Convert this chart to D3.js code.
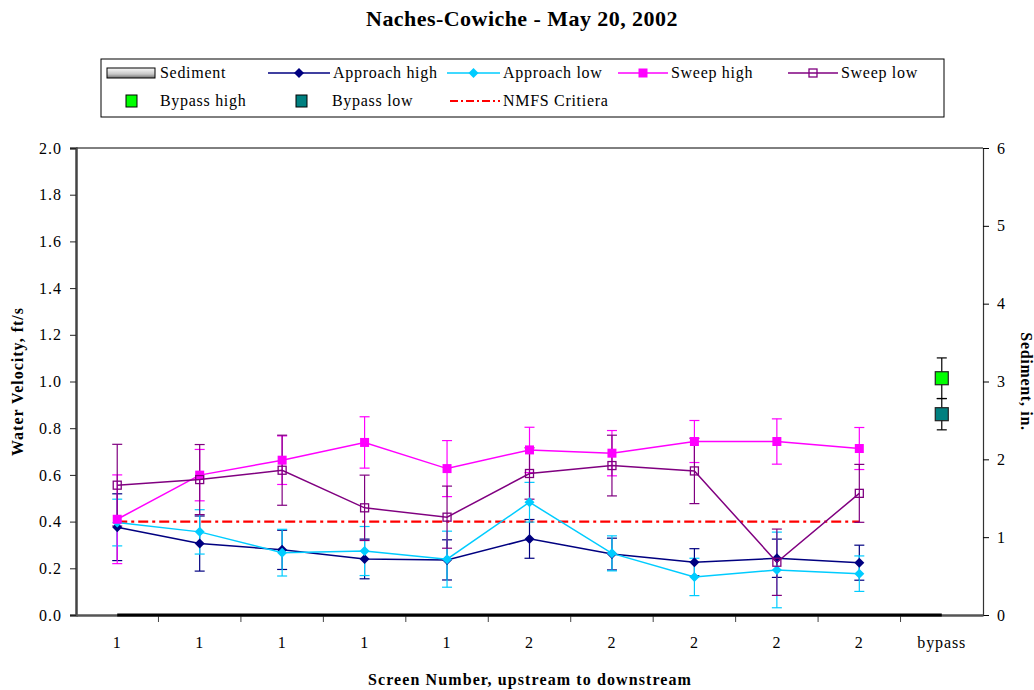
<!DOCTYPE html>
<html><head><meta charset="utf-8">
<script src="https://cdn.jsdelivr.net/npm/d3@7/dist/d3.min.js"></script>
<style>body{margin:0;background:#fff}svg{display:block}text{font-family:"Liberation Serif","Times New Roman",serif}</style>
</head><body><svg id="c" width="1034" height="690"></svg>
<script>
const categories = ["1","1","1","1","1","2","2","2","2","2","bypass"];
const yTicks = [0,0.2,0.4,0.6,0.8,1.0,1.2,1.4,1.6,1.8,2.0];
const y2Ticks = [0,1,2,3,4,5,6];
const sediment = [0,0,0,0,0,0,0,0,0,0,0];
const approachHigh = [0.376,0.306,0.279,0.240,0.236,0.326,0.261,0.226,0.243,0.224];
const approachHighErr = [0.143,0.118,0.084,0.085,0.086,0.083,0.068,0.058,0.082,0.075];
const approachLow = [0.396,0.356,0.267,0.274,0.239,0.483,0.264,0.163,0.193,0.177];
const approachLowErr = [0.100,0.095,0.100,0.105,0.120,0.085,0.075,0.080,0.162,0.076];
const sweepHigh = [0.410,0.599,0.663,0.739,0.627,0.707,0.693,0.743,0.743,0.713];
const sweepHighErr = [0.190,0.110,0.104,0.110,0.120,0.097,0.097,0.090,0.097,0.090];
const sweepLow = [0.556,0.580,0.620,0.459,0.419,0.606,0.640,0.617,0.226,0.521];
const sweepLowErr = [0.175,0.150,0.150,0.140,0.133,0.110,0.130,0.140,0.142,0.124];
const bypassHigh = [1.014]; const bypassHighErr = [0.087];
const bypassLow = [0.860]; const bypassLowErr = [0.067];
const nmfs = [0.4,0.4,0.4,0.4,0.4,0.4,0.4,0.4,0.4,0.4];

const svg = d3.select("#c");
const L=76,R=983,T=148,B=615;
const x = d3.scaleBand().domain(d3.range(categories.length)).range([L,R]).padding(0);
const cx = i => x(i)+x.bandwidth()/2;
const y = d3.scaleLinear().domain([0,2]).range([B,T]);
const y2 = d3.scaleLinear().domain([0,6]).range([B,T]);

// title
svg.append("text").attr("x",522).attr("y",26).attr("text-anchor","middle").attr("font-size",22).attr("letter-spacing",0.45).attr("font-weight","bold").text("Naches-Cowiche - May 20, 2002");

// plot frame top
svg.append("line").attr("x1",L).attr("x2",R).attr("y1",T).attr("y2",T).attr("stroke","#000").attr("stroke-width",1);

// left axis
const ya = svg.append("g").attr("transform",`translate(${L},0)`).call(d3.axisLeft(y).tickValues(yTicks).tickFormat(d3.format(".1f")).tickSize(6).tickPadding(8));
ya.select(".domain").attr("stroke","#444").attr("stroke-width",2.5);
ya.selectAll(".tick line").attr("stroke","#222");
ya.selectAll("text").attr("font-size",16).attr("letter-spacing",1).attr("font-family","Liberation Serif").attr("fill","#000");

// right axis
const y2a = svg.append("g").attr("transform",`translate(${R},0)`).call(d3.axisRight(y2).tickValues(y2Ticks).tickFormat(d3.format("d")).tickSize(6).tickPadding(8));
y2a.select(".domain").attr("stroke","#333").attr("stroke-width",1.2);
y2a.selectAll("text").attr("font-size",16).attr("font-family","Liberation Serif").attr("fill","#000");

// x axis
const xa = svg.append("g").attr("transform",`translate(0,${B})`).call(d3.axisBottom(x).tickFormat(i=>categories[i]).tickSize(0).tickPadding(22));
xa.select(".domain").attr("stroke","#555").attr("stroke-width",2.5);
xa.selectAll("text").attr("font-size",16).attr("letter-spacing",0.9).attr("font-family","Liberation Serif").attr("fill","#000");
svg.append("g").selectAll("line").data(d3.range(1,categories.length)).join("line")
  .attr("x1",i=>x(i)).attr("x2",i=>x(i)).attr("y1",B).attr("y2",B+7).attr("stroke","#444").attr("stroke-width",1);

// sediment area (secondary axis)
const grad = svg.append("defs").append("linearGradient").attr("id","sg").attr("x1",0).attr("x2",0).attr("y1",0).attr("y2",1);
grad.append("stop").attr("offset","0%").attr("stop-color","#fafafa");
grad.append("stop").attr("offset","60%").attr("stop-color","#c8c8c8");
grad.append("stop").attr("offset","100%").attr("stop-color","#707070");
svg.append("path").datum(sediment).attr("d",d3.area().x((d,i)=>cx(i)).y0(y2(0)).y1(d=>y2(d)))
  .attr("fill","url(#sg)").attr("stroke","#000").attr("stroke-width",3);

// NMFS line
svg.append("path").datum(nmfs).attr("d",d3.line().x((d,i)=>cx(i)).y(d=>y(d)))
  .attr("fill","none").attr("stroke","#ff0000").attr("stroke-width",2.2).attr("stroke-dasharray","10,4,3,4");

function errBars(vals,errs,color,offset){
  const g=svg.append("g").attr("stroke",color).attr("stroke-width",1.2);
  vals.forEach((v,i)=>{
    const X=cx(i+offset);
    g.append("line").attr("x1",X).attr("x2",X).attr("y1",y(v+errs[i])).attr("y2",y(v-errs[i]));
    [v+errs[i],v-errs[i]].forEach(w=>g.append("line").attr("x1",X-5).attr("x2",X+5).attr("y1",y(w)).attr("y2",y(w)));
  });
}
function series(vals,color,marker,fill){
  svg.append("path").datum(vals).attr("d",d3.line().x((d,i)=>cx(i)).y(d=>y(d))).attr("fill","none").attr("stroke",color).attr("stroke-width",1.5);
  const g=svg.append("g");
  vals.forEach((v,i)=>drawMarker(g,cx(i),y(v),marker,color,fill));
}
function drawMarker(g,X,Y,marker,color,fill){
  if(marker==="diamond") g.append("path").attr("d",`M${X},${Y-5}L${X+5},${Y}L${X},${Y+5}L${X-5},${Y}Z`).attr("fill",color);
  else if(marker==="square") g.append("rect").attr("x",X-4.5).attr("y",Y-4.5).attr("width",9).attr("height",9).attr("fill",color);
  else if(marker==="open") g.append("rect").attr("x",X-4).attr("y",Y-4).attr("width",8).attr("height",8).attr("fill","none").attr("stroke",color).attr("stroke-width",1.3);
  else if(marker==="big") g.append("rect").attr("x",X-6.5).attr("y",Y-6.5).attr("width",13).attr("height",13).attr("fill",fill).attr("stroke","#222").attr("stroke-width",1.2);
}
errBars(approachHigh,approachHighErr,"#000080",0);
errBars(approachLow,approachLowErr,"#00ccff",0);
errBars(sweepHigh,sweepHighErr,"#ff00ff",0);
errBars(sweepLow,sweepLowErr,"#800080",0);
series(approachHigh,"#000080","diamond");
series(approachLow,"#00ccff","diamond");
series(sweepHigh,"#ff00ff","square");
series(sweepLow,"#800080","open");
errBars(bypassHigh,bypassHighErr,"#000",10);
errBars(bypassLow,bypassLowErr,"#000",10);
drawMarker(svg,cx(10),y(bypassHigh[0]),"big","#000","#00ff00");
drawMarker(svg,cx(10),y(bypassLow[0]),"big","#000","#008080");

// axis titles
svg.append("text").attr("transform",`translate(23,${(T+B)/2}) rotate(-90)`).attr("text-anchor","middle").attr("font-size",16).attr("letter-spacing",1).attr("font-weight","bold").text("Water Velocity, ft/s");
svg.append("text").attr("transform",`translate(1021,${(T+B)/2}) rotate(90)`).attr("text-anchor","middle").attr("font-size",16).attr("letter-spacing",0.7).attr("font-weight","bold").text("Sediment, in.");
svg.append("text").attr("x",530).attr("y",685).attr("text-anchor","middle").attr("font-size",16).attr("letter-spacing",1.1).attr("font-weight","bold").text("Screen Number, upstream to downstream");

// legend
const lg = svg.append("g");
lg.append("rect").attr("x",101).attr("y",59).attr("width",843).attr("height",58).attr("fill","#fff").attr("stroke","#000").attr("stroke-width",1);
const r1=73,r2=101;
lg.append("rect").attr("x",107).attr("y",r1-5).attr("width",48).attr("height",10).attr("fill","url(#sg)").attr("stroke","#000").attr("stroke-width",1);
const leg1=[{x1:268,x2:330,c:"#000080",m:"diamond",t:"Approach high"},{x1:447,x2:500,c:"#00ccff",m:"diamond",t:"Approach low"},{x1:618,x2:668,c:"#ff00ff",m:"square",t:"Sweep high"},{x1:788,x2:838,c:"#800080",m:"open",t:"Sweep low"}];
leg1.forEach(d=>{
  lg.append("line").attr("x1",d.x1).attr("x2",d.x2).attr("y1",r1).attr("y2",r1).attr("stroke",d.c).attr("stroke-width",1.5);
  drawMarker(lg,(d.x1+d.x2)/2,r1,d.m,d.c);
  lg.append("text").attr("x",d.x2+3).attr("y",r1+5).attr("font-size",16).attr("letter-spacing",0.7).text(d.t);
});
lg.append("text").attr("x",160).attr("y",r1+5).attr("font-size",16).attr("letter-spacing",0.7).text("Sediment");
lg.append("rect").attr("x",126).attr("y",r2-6).attr("width",11).attr("height",12).attr("fill","#00ff00").attr("stroke","#000");
lg.append("text").attr("x",160).attr("y",r2+5).attr("font-size",16).attr("letter-spacing",0.7).text("Bypass high");
lg.append("rect").attr("x",296).attr("y",r2-6).attr("width",11).attr("height",12).attr("fill","#008080").attr("stroke","#000");
lg.append("text").attr("x",332).attr("y",r2+5).attr("font-size",16).attr("letter-spacing",0.7).text("Bypass low");
lg.append("line").attr("x1",450).attr("x2",500).attr("y1",r2).attr("y2",r2).attr("stroke","#ff0000").attr("stroke-width",2).attr("stroke-dasharray","8,3,2,3");
lg.append("text").attr("x",503).attr("y",r2+5).attr("font-size",16).attr("letter-spacing",0.7).text("NMFS Critiera");
</script></body></html>
